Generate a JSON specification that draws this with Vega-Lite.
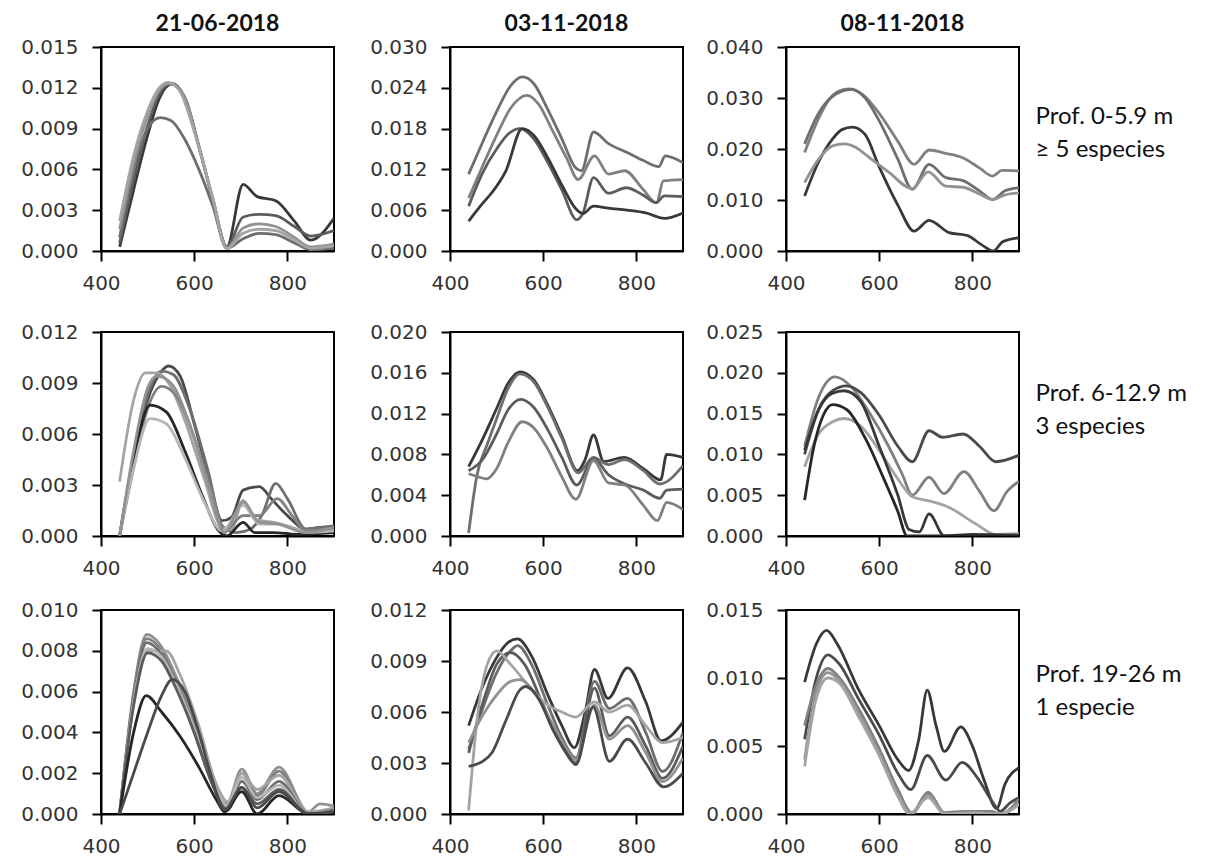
{
"$schema": "https://vega.github.io/schema/vega-lite/v6.json",
"padding": {"left": 19, "top": 12, "right": 5, "bottom": 0},
"background": "white",
"datasets": {
"a": [
{"s":2,"x":440,"y":0.0003},{"s":2,"x":470,"y":0.0045},{"s":2,"x":500,"y":0.0085},{"s":2,"x":525,"y":0.0112},{"s":2,"x":553,"y":0.0123},{"s":2,"x":580,"y":0.0112},{"s":2,"x":610,"y":0.0077},{"s":2,"x":640,"y":0.0038},{"s":2,"x":670,"y":0.0003},{"s":2,"x":705,"y":0.0049},{"s":2,"x":735,"y":0.0040},{"s":2,"x":775,"y":0.0037},{"s":2,"x":815,"y":0.0022},{"s":2,"x":850,"y":0.0008},{"s":2,"x":900,"y":0.0024},
{"s":4,"x":440,"y":0.0006},{"s":4,"x":470,"y":0.0052},{"s":4,"x":500,"y":0.0092},{"s":4,"x":525,"y":0.0115},{"s":4,"x":550,"y":0.0123},{"s":4,"x":580,"y":0.0113},{"s":4,"x":610,"y":0.0077},{"s":4,"x":640,"y":0.0038},{"s":4,"x":670,"y":0.0003},{"s":4,"x":705,"y":0.0025},{"s":4,"x":740,"y":0.0027},{"s":4,"x":775,"y":0.0026},{"s":4,"x":815,"y":0.0018},{"s":4,"x":850,"y":0.0011},{"s":4,"x":900,"y":0.0015},
{"s":5,"x":440,"y":0.0010},{"s":5,"x":470,"y":0.0060},{"s":5,"x":500,"y":0.0090},{"s":5,"x":527,"y":0.0098},{"s":5,"x":550,"y":0.0096},{"s":5,"x":580,"y":0.0082},{"s":5,"x":610,"y":0.0060},{"s":5,"x":640,"y":0.0033},{"s":5,"x":670,"y":0.0002},{"s":5,"x":705,"y":0.0009},{"s":5,"x":740,"y":0.0013},{"s":5,"x":775,"y":0.0012},{"s":5,"x":815,"y":0.0006},{"s":5,"x":850,"y":0.0001},{"s":5,"x":900,"y":0.0002},
{"s":7,"x":440,"y":0.0016},{"s":7,"x":470,"y":0.0064},{"s":7,"x":500,"y":0.0099},{"s":7,"x":525,"y":0.0118},{"s":7,"x":545,"y":0.0123},{"s":7,"x":575,"y":0.0116},{"s":7,"x":610,"y":0.0077},{"s":7,"x":640,"y":0.0038},{"s":7,"x":670,"y":0.0002},{"s":7,"x":705,"y":0.0017},{"s":7,"x":740,"y":0.0020},{"s":7,"x":775,"y":0.0018},{"s":7,"x":815,"y":0.0010},{"s":7,"x":850,"y":0.0003},{"s":7,"x":900,"y":0.0005},
{"s":8,"x":440,"y":0.0022},{"s":8,"x":470,"y":0.0070},{"s":8,"x":500,"y":0.0103},{"s":8,"x":525,"y":0.0120},{"s":8,"x":545,"y":0.0124},{"s":8,"x":570,"y":0.0117},{"s":8,"x":605,"y":0.0082},{"s":8,"x":640,"y":0.0039},{"s":8,"x":670,"y":0.0002},{"s":8,"x":705,"y":0.0013},{"s":8,"x":740,"y":0.0016},{"s":8,"x":775,"y":0.0015},{"s":8,"x":815,"y":0.0008},{"s":8,"x":850,"y":0.0002},{"s":8,"x":900,"y":0.0004}
],
"b": [
{"s":5,"x":440,"y":0.0113},{"s":5,"x":470,"y":0.0160},{"s":5,"x":500,"y":0.0205},{"s":5,"x":530,"y":0.0243},{"s":5,"x":556,"y":0.0256},{"s":5,"x":580,"y":0.0246},{"s":5,"x":610,"y":0.0208},{"s":5,"x":640,"y":0.0165},{"s":5,"x":670,"y":0.0122},{"s":5,"x":682,"y":0.0118},{"s":5,"x":708,"y":0.0175},{"s":5,"x":740,"y":0.0158},{"s":5,"x":780,"y":0.0145},{"s":5,"x":815,"y":0.0133},{"s":5,"x":848,"y":0.0124},{"s":5,"x":862,"y":0.0140},{"s":5,"x":900,"y":0.0130},
{"s":6,"x":440,"y":0.0078},{"s":6,"x":470,"y":0.0125},{"s":6,"x":500,"y":0.0170},{"s":6,"x":530,"y":0.0210},{"s":6,"x":565,"y":0.0229},{"s":6,"x":590,"y":0.0216},{"s":6,"x":620,"y":0.0177},{"s":6,"x":650,"y":0.0137},{"s":6,"x":675,"y":0.0105},{"s":6,"x":710,"y":0.0140},{"s":6,"x":740,"y":0.0113},{"s":6,"x":775,"y":0.0118},{"s":6,"x":815,"y":0.0090},{"s":6,"x":843,"y":0.0071},{"s":6,"x":858,"y":0.0103},{"s":6,"x":900,"y":0.0105},
{"s":4,"x":440,"y":0.0066},{"s":4,"x":470,"y":0.0115},{"s":4,"x":500,"y":0.0150},{"s":4,"x":525,"y":0.0172},{"s":4,"x":550,"y":0.0180},{"s":4,"x":580,"y":0.0165},{"s":4,"x":610,"y":0.0130},{"s":4,"x":640,"y":0.0090},{"s":4,"x":672,"y":0.0046},{"s":4,"x":685,"y":0.0055},{"s":4,"x":708,"y":0.0108},{"s":4,"x":740,"y":0.0085},{"s":4,"x":778,"y":0.0093},{"s":4,"x":815,"y":0.0082},{"s":4,"x":842,"y":0.0071},{"s":4,"x":860,"y":0.0081},{"s":4,"x":900,"y":0.0080},
{"s":2,"x":440,"y":0.0044},{"s":2,"x":470,"y":0.0070},{"s":2,"x":490,"y":0.0086},{"s":2,"x":520,"y":0.0118},{"s":2,"x":555,"y":0.0180},{"s":2,"x":580,"y":0.0170},{"s":2,"x":610,"y":0.0137},{"s":2,"x":640,"y":0.0097},{"s":2,"x":670,"y":0.0062},{"s":2,"x":685,"y":0.0055},{"s":2,"x":708,"y":0.0066},{"s":2,"x":740,"y":0.0063},{"s":2,"x":780,"y":0.0060},{"s":2,"x":820,"y":0.0056},{"s":2,"x":860,"y":0.0048},{"s":2,"x":900,"y":0.0056}
],
"c": [
{"s":6,"x":440,"y":0.0193},{"s":6,"x":470,"y":0.0260},{"s":6,"x":493,"y":0.0298},{"s":6,"x":515,"y":0.0314},{"s":6,"x":535,"y":0.0318},{"s":6,"x":564,"y":0.0307},{"s":6,"x":600,"y":0.0270},{"s":6,"x":640,"y":0.0215},{"s":6,"x":675,"y":0.0170},{"s":6,"x":707,"y":0.0198},{"s":6,"x":740,"y":0.0192},{"s":6,"x":779,"y":0.0183},{"s":6,"x":815,"y":0.0163},{"s":6,"x":843,"y":0.0147},{"s":6,"x":864,"y":0.0158},{"s":6,"x":900,"y":0.0157},
{"s":5,"x":440,"y":0.0210},{"s":5,"x":470,"y":0.0270},{"s":5,"x":500,"y":0.0303},{"s":5,"x":540,"y":0.0317},{"s":5,"x":570,"y":0.0300},{"s":5,"x":600,"y":0.0255},{"s":5,"x":640,"y":0.0180},{"s":5,"x":671,"y":0.0121},{"s":5,"x":707,"y":0.0170},{"s":5,"x":743,"y":0.0144},{"s":5,"x":780,"y":0.0138},{"s":5,"x":815,"y":0.0118},{"s":5,"x":843,"y":0.0101},{"s":5,"x":870,"y":0.0118},{"s":5,"x":900,"y":0.0124},
{"s":2,"x":440,"y":0.0108},{"s":2,"x":470,"y":0.0175},{"s":2,"x":500,"y":0.0220},{"s":2,"x":520,"y":0.0238},{"s":2,"x":543,"y":0.0243},{"s":2,"x":570,"y":0.0228},{"s":2,"x":600,"y":0.0165},{"s":2,"x":640,"y":0.0090},{"s":2,"x":675,"y":0.0039},{"s":2,"x":707,"y":0.0060},{"s":2,"x":750,"y":0.0036},{"s":2,"x":790,"y":0.0030},{"s":2,"x":820,"y":0.0012},{"s":2,"x":845,"y":0.0000},{"s":2,"x":865,"y":0.0018},{"s":2,"x":900,"y":0.0026},
{"s":7,"x":440,"y":0.0134},{"s":7,"x":470,"y":0.0180},{"s":7,"x":500,"y":0.0206},{"s":7,"x":525,"y":0.0210},{"s":7,"x":550,"y":0.0203},{"s":7,"x":579,"y":0.0183},{"s":7,"x":621,"y":0.0154},{"s":7,"x":671,"y":0.0122},{"s":7,"x":705,"y":0.0155},{"s":7,"x":743,"y":0.0127},{"s":7,"x":780,"y":0.0125},{"s":7,"x":815,"y":0.0112},{"s":7,"x":843,"y":0.0101},{"s":7,"x":870,"y":0.0110},{"s":7,"x":900,"y":0.0114}
],
"d": [
{"s":3,"x":440,"y":0},{"s":3,"x":470,"y":0.0045},{"s":3,"x":500,"y":0.0080},{"s":3,"x":525,"y":0.0095},{"s":3,"x":545,"y":0.0100},{"s":3,"x":570,"y":0.0094},{"s":3,"x":600,"y":0.0066},{"s":3,"x":630,"y":0.0036},{"s":3,"x":660,"y":0.0009},{"s":3,"x":680,"y":0.0011},{"s":3,"x":705,"y":0.0027},{"s":3,"x":740,"y":0.0029},{"s":3,"x":765,"y":0.0022},{"s":3,"x":800,"y":0.0012},{"s":3,"x":840,"y":0.0004},{"s":3,"x":870,"y":0.0005},{"s":3,"x":900,"y":0.0005},
{"s":5,"x":440,"y":0},{"s":5,"x":470,"y":0.0047},{"s":5,"x":500,"y":0.0083},{"s":5,"x":530,"y":0.0097},{"s":5,"x":555,"y":0.0095},{"s":5,"x":590,"y":0.0075},{"s":5,"x":630,"y":0.0038},{"s":5,"x":660,"y":0.0006},{"s":5,"x":690,"y":0.0002},{"s":5,"x":720,"y":0.0004},{"s":5,"x":745,"y":0.0012},{"s":5,"x":775,"y":0.0031},{"s":5,"x":800,"y":0.0022},{"s":5,"x":840,"y":0.0004},{"s":5,"x":870,"y":0.0005},{"s":5,"x":900,"y":0.0006},
{"s":8,"x":440,"y":0.0032},{"s":8,"x":470,"y":0.0080},{"s":8,"x":495,"y":0.0096},{"s":8,"x":520,"y":0.0096},{"s":8,"x":545,"y":0.0090},{"s":8,"x":580,"y":0.0068},{"s":8,"x":620,"y":0.0035},{"s":8,"x":660,"y":0.0005},{"s":8,"x":680,"y":0.0004},{"s":8,"x":705,"y":0.0021},{"s":8,"x":730,"y":0.0010},{"s":8,"x":770,"y":0.0008},{"s":8,"x":800,"y":0.0006},{"s":8,"x":840,"y":0.0003},{"s":8,"x":900,"y":0.0004},
{"s":6,"x":440,"y":0},{"s":6,"x":470,"y":0.0040},{"s":6,"x":500,"y":0.0075},{"s":6,"x":530,"y":0.0088},{"s":6,"x":560,"y":0.0083},{"s":6,"x":600,"y":0.0058},{"s":6,"x":640,"y":0.0024},{"s":6,"x":665,"y":0.0003},{"s":6,"x":705,"y":0.0012},{"s":6,"x":740,"y":0.0012},{"s":6,"x":778,"y":0.0022},{"s":6,"x":810,"y":0.0012},{"s":6,"x":840,"y":0.0003},{"s":6,"x":900,"y":0.0005},
{"s":1,"x":440,"y":0},{"s":1,"x":470,"y":0.0045},{"s":1,"x":505,"y":0.0077},{"s":1,"x":540,"y":0.0073},{"s":1,"x":580,"y":0.0050},{"s":1,"x":620,"y":0.0022},{"s":1,"x":650,"y":0.0004},{"s":1,"x":670,"y":0},{"s":1,"x":705,"y":0.0008},{"s":1,"x":730,"y":0.0002},{"s":1,"x":770,"y":0.0002},{"s":1,"x":820,"y":0.0001},{"s":1,"x":900,"y":0.0002},
{"s":9,"x":440,"y":0},{"s":9,"x":470,"y":0.0040},{"s":9,"x":505,"y":0.0069},{"s":9,"x":540,"y":0.0066},{"s":9,"x":580,"y":0.0046},{"s":9,"x":620,"y":0.0021},{"s":9,"x":660,"y":0.0003},{"s":9,"x":705,"y":0.0018},{"s":9,"x":740,"y":0.0007},{"s":9,"x":780,"y":0.0007},{"s":9,"x":840,"y":0.0002},{"s":9,"x":900,"y":0.0003},
{"s":7,"x":440,"y":0},{"s":7,"x":470,"y":0.0050},{"s":7,"x":500,"y":0.0087},{"s":7,"x":520,"y":0.0094},{"s":7,"x":550,"y":0.0090},{"s":7,"x":590,"y":0.0066},{"s":7,"x":630,"y":0.0030},{"s":7,"x":665,"y":0.0002},{"s":7,"x":705,"y":0.0020},{"s":7,"x":740,"y":0.0008},{"s":7,"x":780,"y":0.0007},{"s":7,"x":840,"y":0.0002},{"s":7,"x":900,"y":0.0005}
],
"e": [
{"s":2,"x":440,"y":0.0068},{"s":2,"x":470,"y":0.0095},{"s":2,"x":500,"y":0.0125},{"s":2,"x":525,"y":0.0150},{"s":2,"x":550,"y":0.0161},{"s":2,"x":580,"y":0.0153},{"s":2,"x":610,"y":0.0128},{"s":2,"x":640,"y":0.0098},{"s":2,"x":674,"y":0.0064},{"s":2,"x":690,"y":0.0075},{"s":2,"x":708,"y":0.0099},{"s":2,"x":730,"y":0.0073},{"s":2,"x":774,"y":0.0077},{"s":2,"x":815,"y":0.0066},{"s":2,"x":852,"y":0.0055},{"s":2,"x":865,"y":0.0080},{"s":2,"x":900,"y":0.0077},
{"s":5,"x":440,"y":0.0003},{"s":5,"x":458,"y":0.0060},{"s":5,"x":480,"y":0.0090},{"s":5,"x":500,"y":0.0115},{"s":5,"x":525,"y":0.0145},{"s":5,"x":550,"y":0.0159},{"s":5,"x":580,"y":0.0151},{"s":5,"x":610,"y":0.0126},{"s":5,"x":640,"y":0.0096},{"s":5,"x":675,"y":0.0062},{"s":5,"x":708,"y":0.0077},{"s":5,"x":740,"y":0.0070},{"s":5,"x":775,"y":0.0075},{"s":5,"x":815,"y":0.0064},{"s":5,"x":850,"y":0.0051},{"s":5,"x":900,"y":0.0069},
{"s":4,"x":440,"y":0.0064},{"s":4,"x":470,"y":0.0075},{"s":4,"x":500,"y":0.0100},{"s":4,"x":525,"y":0.0124},{"s":4,"x":552,"y":0.0134},{"s":4,"x":580,"y":0.0126},{"s":4,"x":610,"y":0.0104},{"s":4,"x":640,"y":0.0077},{"s":4,"x":672,"y":0.0050},{"s":4,"x":708,"y":0.0076},{"s":4,"x":740,"y":0.0060},{"s":4,"x":775,"y":0.0051},{"s":4,"x":815,"y":0.0045},{"s":4,"x":850,"y":0.0037},{"s":4,"x":865,"y":0.0045},{"s":4,"x":900,"y":0.0046},
{"s":6,"x":440,"y":0.0061},{"s":6,"x":460,"y":0.0058},{"s":6,"x":478,"y":0.0056},{"s":6,"x":500,"y":0.0066},{"s":6,"x":525,"y":0.0092},{"s":6,"x":555,"y":0.0112},{"s":6,"x":580,"y":0.0106},{"s":6,"x":610,"y":0.0085},{"s":6,"x":640,"y":0.0058},{"s":6,"x":670,"y":0.0036},{"s":6,"x":708,"y":0.0074},{"s":6,"x":740,"y":0.0052},{"s":6,"x":775,"y":0.0050},{"s":6,"x":815,"y":0.0030},{"s":6,"x":845,"y":0.0015},{"s":6,"x":865,"y":0.0033},{"s":6,"x":900,"y":0.0026}
],
"f": [
{"s":6,"x":440,"y":0.0110},{"s":6,"x":470,"y":0.0170},{"s":6,"x":505,"y":0.0195},{"s":6,"x":540,"y":0.0183},{"s":6,"x":580,"y":0.0150},{"s":6,"x":620,"y":0.0110},{"s":6,"x":650,"y":0.0075},{"s":6,"x":671,"y":0.0050},{"s":6,"x":707,"y":0.0072},{"s":6,"x":739,"y":0.0052},{"s":6,"x":782,"y":0.0079},{"s":6,"x":815,"y":0.0055},{"s":6,"x":846,"y":0.0031},{"s":6,"x":875,"y":0.0055},{"s":6,"x":900,"y":0.0067},
{"s":3,"x":440,"y":0.0100},{"s":3,"x":470,"y":0.0155},{"s":3,"x":500,"y":0.0178},{"s":3,"x":530,"y":0.0184},{"s":3,"x":560,"y":0.0176},{"s":3,"x":600,"y":0.0148},{"s":3,"x":640,"y":0.0110},{"s":3,"x":671,"y":0.0091},{"s":3,"x":707,"y":0.0129},{"s":3,"x":736,"y":0.0121},{"s":3,"x":780,"y":0.0125},{"s":3,"x":815,"y":0.0110},{"s":3,"x":850,"y":0.0091},{"s":3,"x":900,"y":0.0099},
{"s":8,"x":440,"y":0.0085},{"s":8,"x":470,"y":0.0125},{"s":8,"x":500,"y":0.0140},{"s":8,"x":525,"y":0.0144},{"s":8,"x":560,"y":0.0135},{"s":8,"x":600,"y":0.0105},{"s":8,"x":640,"y":0.0070},{"s":8,"x":671,"y":0.0048},{"s":8,"x":707,"y":0.0043},{"s":8,"x":750,"y":0.0035},{"s":8,"x":807,"y":0.0015},{"s":8,"x":850,"y":0.0002},{"s":8,"x":900,"y":0.0003},
{"s":2,"x":440,"y":0.0105},{"s":2,"x":470,"y":0.0155},{"s":2,"x":500,"y":0.0175},{"s":2,"x":525,"y":0.0178},{"s":2,"x":560,"y":0.0165},{"s":2,"x":600,"y":0.0110},{"s":2,"x":640,"y":0.0050},{"s":2,"x":664,"y":0.0008},{"s":2,"x":686,"y":0.0005},{"s":2,"x":707,"y":0.0027},{"s":2,"x":740,"y":0},{"s":2,"x":800,"y":0.0002},{"s":2,"x":900,"y":0.0001},
{"s":1,"x":440,"y":0.0044},{"s":1,"x":460,"y":0.0110},{"s":1,"x":480,"y":0.0148},{"s":1,"x":500,"y":0.0161},{"s":1,"x":530,"y":0.0155},{"s":1,"x":570,"y":0.0120},{"s":1,"x":610,"y":0.0070},{"s":1,"x":640,"y":0.0030},{"s":1,"x":660,"y":0},{"s":1,"x":700,"y":0},{"s":1,"x":800,"y":0},{"s":1,"x":900,"y":0}
],
"g": [
{"s":7,"x":440,"y":0},{"s":7,"x":470,"y":0.0060},{"s":7,"x":498,"y":0.0088},{"s":7,"x":530,"y":0.0082},{"s":7,"x":560,"y":0.0068},{"s":7,"x":600,"y":0.0045},{"s":7,"x":640,"y":0.0018},{"s":7,"x":670,"y":0.0005},{"s":7,"x":702,"y":0.0022},{"s":7,"x":735,"y":0.0010},{"s":7,"x":782,"y":0.0023},{"s":7,"x":845,"y":0.0001},{"s":7,"x":870,"y":0.0005},{"s":7,"x":900,"y":0.0004},
{"s":6,"x":440,"y":0},{"s":6,"x":470,"y":0.0058},{"s":6,"x":498,"y":0.0086},{"s":6,"x":530,"y":0.0080},{"s":6,"x":560,"y":0.0066},{"s":6,"x":600,"y":0.0043},{"s":6,"x":640,"y":0.0016},{"s":6,"x":670,"y":0.0003},{"s":6,"x":702,"y":0.0020},{"s":6,"x":735,"y":0.0009},{"s":6,"x":782,"y":0.0021},{"s":6,"x":845,"y":0},{"s":6,"x":900,"y":0.0002},
{"s":8,"x":440,"y":0},{"s":8,"x":470,"y":0.0055},{"s":8,"x":500,"y":0.0080},{"s":8,"x":540,"y":0.0080},{"s":8,"x":570,"y":0.0068},{"s":8,"x":610,"y":0.0043},{"s":8,"x":645,"y":0.0016},{"s":8,"x":672,"y":0.0006},{"s":8,"x":702,"y":0.0020},{"s":8,"x":735,"y":0.0012},{"s":8,"x":782,"y":0.0019},{"s":8,"x":845,"y":0.0001},{"s":8,"x":900,"y":0.0003},
{"s":5,"x":440,"y":0},{"s":5,"x":470,"y":0.0057},{"s":5,"x":498,"y":0.0084},{"s":5,"x":530,"y":0.0078},{"s":5,"x":560,"y":0.0064},{"s":5,"x":600,"y":0.0040},{"s":5,"x":640,"y":0.0014},{"s":5,"x":670,"y":0.0002},{"s":5,"x":702,"y":0.0016},{"s":5,"x":735,"y":0.0007},{"s":5,"x":782,"y":0.0016},{"s":5,"x":845,"y":0},{"s":5,"x":900,"y":0.0002},
{"s":9,"x":440,"y":0},{"s":9,"x":470,"y":0.0055},{"s":9,"x":500,"y":0.0081},{"s":9,"x":530,"y":0.0077},{"s":9,"x":560,"y":0.0064},{"s":9,"x":600,"y":0.0042},{"s":9,"x":640,"y":0.0016},{"s":9,"x":670,"y":0.0004},{"s":9,"x":702,"y":0.0018},{"s":9,"x":735,"y":0.0008},{"s":9,"x":782,"y":0.0014},{"s":9,"x":845,"y":0},{"s":9,"x":900,"y":0.0001},
{"s":4,"x":440,"y":0},{"s":4,"x":470,"y":0.0053},{"s":4,"x":500,"y":0.0079},{"s":4,"x":530,"y":0.0075},{"s":4,"x":560,"y":0.0062},{"s":4,"x":600,"y":0.0040},{"s":4,"x":640,"y":0.0014},{"s":4,"x":670,"y":0.0002},{"s":4,"x":702,"y":0.0013},{"s":4,"x":735,"y":0.0005},{"s":4,"x":782,"y":0.0012},{"s":4,"x":845,"y":0},{"s":4,"x":900,"y":0.0001},
{"s":1,"x":440,"y":0},{"s":1,"x":470,"y":0.0040},{"s":1,"x":497,"y":0.0058},{"s":1,"x":530,"y":0.0050},{"s":1,"x":570,"y":0.0038},{"s":1,"x":610,"y":0.0023},{"s":1,"x":650,"y":0.0006},{"s":1,"x":665,"y":0.0001},{"s":1,"x":702,"y":0.0011},{"s":1,"x":735,"y":0},{"s":1,"x":782,"y":0.0009},{"s":1,"x":845,"y":0},{"s":1,"x":900,"y":0},
{"s":3,"x":440,"y":0},{"s":3,"x":470,"y":0.0020},{"s":3,"x":500,"y":0.0040},{"s":3,"x":530,"y":0.0058},{"s":3,"x":553,"y":0.0066},{"s":3,"x":580,"y":0.0060},{"s":3,"x":610,"y":0.0040},{"s":3,"x":640,"y":0.0016},{"s":3,"x":665,"y":0.0002},{"s":3,"x":702,"y":0.0013},{"s":3,"x":735,"y":0.0003},{"s":3,"x":782,"y":0.0011},{"s":3,"x":845,"y":0},{"s":3,"x":900,"y":0.0001}
],
"h": [
{"s":2,"x":440,"y":0.0052},{"s":2,"x":470,"y":0.0075},{"s":2,"x":500,"y":0.0092},{"s":2,"x":525,"y":0.0101},{"s":2,"x":545,"y":0.0103},{"s":2,"x":575,"y":0.0093},{"s":2,"x":610,"y":0.0070},{"s":2,"x":640,"y":0.0052},{"s":2,"x":667,"y":0.0039},{"s":2,"x":690,"y":0.0060},{"s":2,"x":710,"y":0.0085},{"s":2,"x":739,"y":0.0068},{"s":2,"x":781,"y":0.0086},{"s":2,"x":820,"y":0.0066},{"s":2,"x":853,"y":0.0043},{"s":2,"x":900,"y":0.0054},
{"s":5,"x":440,"y":0.0038},{"s":5,"x":470,"y":0.0062},{"s":5,"x":500,"y":0.0083},{"s":5,"x":530,"y":0.0096},{"s":5,"x":545,"y":0.0099},{"s":5,"x":575,"y":0.0088},{"s":5,"x":610,"y":0.0064},{"s":5,"x":640,"y":0.0045},{"s":5,"x":670,"y":0.0033},{"s":5,"x":710,"y":0.0078},{"s":5,"x":742,"y":0.0062},{"s":5,"x":781,"y":0.0068},{"s":5,"x":820,"y":0.0048},{"s":5,"x":856,"y":0.0025},{"s":5,"x":900,"y":0.0048},
{"s":4,"x":440,"y":0.0036},{"s":4,"x":470,"y":0.0065},{"s":4,"x":500,"y":0.0088},{"s":4,"x":530,"y":0.0095},{"s":4,"x":560,"y":0.0088},{"s":4,"x":600,"y":0.0064},{"s":4,"x":640,"y":0.0040},{"s":4,"x":670,"y":0.0030},{"s":4,"x":710,"y":0.0074},{"s":4,"x":742,"y":0.0046},{"s":4,"x":781,"y":0.0057},{"s":4,"x":820,"y":0.0040},{"s":4,"x":856,"y":0.0021},{"s":4,"x":900,"y":0.0040},
{"s":8,"x":440,"y":0.0002},{"s":8,"x":460,"y":0.0060},{"s":8,"x":480,"y":0.0088},{"s":8,"x":500,"y":0.0096},{"s":8,"x":530,"y":0.0088},{"s":8,"x":570,"y":0.0075},{"s":8,"x":610,"y":0.0064},{"s":8,"x":640,"y":0.0060},{"s":8,"x":670,"y":0.0057},{"s":8,"x":710,"y":0.0066},{"s":8,"x":742,"y":0.0060},{"s":8,"x":781,"y":0.0064},{"s":8,"x":820,"y":0.0052},{"s":8,"x":856,"y":0.0042},{"s":8,"x":900,"y":0.0045},
{"s":7,"x":440,"y":0.0042},{"s":7,"x":470,"y":0.0058},{"s":7,"x":500,"y":0.0070},{"s":7,"x":530,"y":0.0078},{"s":7,"x":550,"y":0.0079},{"s":7,"x":580,"y":0.0072},{"s":7,"x":610,"y":0.0058},{"s":7,"x":640,"y":0.0043},{"s":7,"x":670,"y":0.0032},{"s":7,"x":710,"y":0.0064},{"s":7,"x":742,"y":0.0044},{"s":7,"x":781,"y":0.0052},{"s":7,"x":820,"y":0.0036},{"s":7,"x":856,"y":0.0019},{"s":7,"x":900,"y":0.0033},
{"s":3,"x":440,"y":0.0028},{"s":3,"x":470,"y":0.0031},{"s":3,"x":490,"y":0.0036},{"s":3,"x":520,"y":0.0055},{"s":3,"x":550,"y":0.0073},{"s":3,"x":562,"y":0.0075},{"s":3,"x":590,"y":0.0068},{"s":3,"x":620,"y":0.0050},{"s":3,"x":650,"y":0.0036},{"s":3,"x":670,"y":0.0029},{"s":3,"x":707,"y":0.0063},{"s":3,"x":742,"y":0.0031},{"s":3,"x":781,"y":0.0044},{"s":3,"x":820,"y":0.0030},{"s":3,"x":858,"y":0.0016},{"s":3,"x":900,"y":0.0024}
],
"i": [
{"s":2,"x":440,"y":0.0097},{"s":2,"x":465,"y":0.0125},{"s":2,"x":487,"y":0.0135},{"s":2,"x":510,"y":0.0125},{"s":2,"x":555,"y":0.0092},{"s":2,"x":600,"y":0.0065},{"s":2,"x":640,"y":0.0040},{"s":2,"x":663,"y":0.0032},{"s":2,"x":685,"y":0.0055},{"s":2,"x":703,"y":0.0091},{"s":2,"x":722,"y":0.0065},{"s":2,"x":740,"y":0.0046},{"s":2,"x":775,"y":0.0064},{"s":2,"x":800,"y":0.0050},{"s":2,"x":825,"y":0.0025},{"s":2,"x":852,"y":0.0004},{"s":2,"x":870,"y":0.0022},{"s":2,"x":900,"y":0.0034},
{"s":3,"x":440,"y":0.0055},{"s":3,"x":465,"y":0.0100},{"s":3,"x":490,"y":0.0117},{"s":3,"x":515,"y":0.0110},{"s":3,"x":555,"y":0.0085},{"s":3,"x":600,"y":0.0058},{"s":3,"x":640,"y":0.0030},{"s":3,"x":668,"y":0.0018},{"s":3,"x":703,"y":0.0043},{"s":3,"x":743,"y":0.0025},{"s":3,"x":778,"y":0.0038},{"s":3,"x":810,"y":0.0027},{"s":3,"x":843,"y":0.0009},{"s":3,"x":860,"y":0.0002},{"s":3,"x":880,"y":0.0008},{"s":3,"x":900,"y":0.0012},
{"s":6,"x":440,"y":0.0065},{"s":6,"x":465,"y":0.0095},{"s":6,"x":490,"y":0.0107},{"s":6,"x":515,"y":0.0100},{"s":6,"x":555,"y":0.0078},{"s":6,"x":600,"y":0.0048},{"s":6,"x":640,"y":0.0018},{"s":6,"x":670,"y":0.0001},{"s":6,"x":705,"y":0.0016},{"s":6,"x":740,"y":0.0001},{"s":6,"x":780,"y":0.0002},{"s":6,"x":840,"y":0.0002},{"s":6,"x":860,"y":0},{"s":6,"x":900,"y":0.0011},
{"s":7,"x":440,"y":0.0040},{"s":7,"x":465,"y":0.0090},{"s":7,"x":490,"y":0.0104},{"s":7,"x":515,"y":0.0098},{"s":7,"x":555,"y":0.0075},{"s":7,"x":600,"y":0.0045},{"s":7,"x":640,"y":0.0015},{"s":7,"x":670,"y":0},{"s":7,"x":705,"y":0.0014},{"s":7,"x":740,"y":0},{"s":7,"x":800,"y":0.0001},{"s":7,"x":860,"y":0},{"s":7,"x":900,"y":0.0008},
{"s":8,"x":440,"y":0.0035},{"s":8,"x":465,"y":0.0085},{"s":8,"x":490,"y":0.0100},{"s":8,"x":515,"y":0.0096},{"s":8,"x":555,"y":0.0072},{"s":8,"x":600,"y":0.0043},{"s":8,"x":640,"y":0.0013},{"s":8,"x":665,"y":0},{"s":8,"x":705,"y":0.0012},{"s":8,"x":740,"y":0},{"s":8,"x":800,"y":0.0001},{"s":8,"x":860,"y":0},{"s":8,"x":900,"y":0.0007}
]
},
"hconcat": [
{"vconcat": [
 {"data": {"name": "a"}, "width": 233, "height": 204, "title": "21-06-2018",
  "mark": {"type": "line", "interpolate": "monotone", "strokeWidth": 2.8, "clip": true},
  "encoding": {
   "x": {"field": "x", "type": "quantitative", "scale": {"domain": [400, 900], "nice": false}, "axis": {"values": [400, 600, 800], "title": null}},
   "y": {"field": "y", "type": "quantitative", "scale": {"domain": [0, 0.015], "nice": false}, "axis": {"values": [0, 0.003, 0.006, 0.009, 0.012, 0.015], "format": ".3f", "title": null}},
   "color": {"field": "s", "type": "nominal", "scale": {"domain": [1,2,3,4,5,6,7,8,9], "range": ["#262626","#383838","#4a4a4a","#5c5c5c","#6e6e6e","#808080","#929292","#a4a4a4","#b6b6b6"]}, "legend": null}}},
 {"vconcat": [
  {"data": {"name": "d"}, "width": 233, "height": 204,
   "mark": {"type": "line", "interpolate": "monotone", "strokeWidth": 2.8, "clip": true},
   "encoding": {
    "x": {"field": "x", "type": "quantitative", "scale": {"domain": [400, 900], "nice": false}, "axis": {"values": [400, 600, 800], "title": null}},
    "y": {"field": "y", "type": "quantitative", "scale": {"domain": [0, 0.012], "nice": false}, "axis": {"values": [0, 0.003, 0.006, 0.009, 0.012], "format": ".3f", "title": null}},
    "color": {"field": "s", "type": "nominal", "scale": {"domain": [1,2,3,4,5,6,7,8,9], "range": ["#262626","#383838","#4a4a4a","#5c5c5c","#6e6e6e","#808080","#929292","#a4a4a4","#b6b6b6"]}, "legend": null}}},
  {"data": {"name": "g"}, "width": 233, "height": 204,
   "mark": {"type": "line", "interpolate": "monotone", "strokeWidth": 2.8, "clip": true},
   "encoding": {
    "x": {"field": "x", "type": "quantitative", "scale": {"domain": [400, 900], "nice": false}, "axis": {"values": [400, 600, 800], "title": null}},
    "y": {"field": "y", "type": "quantitative", "scale": {"domain": [0, 0.010], "nice": false}, "axis": {"values": [0, 0.002, 0.004, 0.006, 0.008, 0.010], "format": ".3f", "title": null}},
    "color": {"field": "s", "type": "nominal", "scale": {"domain": [1,2,3,4,5,6,7,8,9], "range": ["#262626","#383838","#4a4a4a","#5c5c5c","#6e6e6e","#808080","#929292","#a4a4a4","#b6b6b6"]}, "legend": null}}}
 ], "spacing": 20}
], "spacing": 27},
{"hconcat": [
 {"vconcat": [
  {"data": {"name": "b"}, "width": 233, "height": 204, "title": "03-11-2018",
   "mark": {"type": "line", "interpolate": "monotone", "strokeWidth": 2.8, "clip": true},
   "encoding": {
    "x": {"field": "x", "type": "quantitative", "scale": {"domain": [400, 900], "nice": false}, "axis": {"values": [400, 600, 800], "title": null}},
    "y": {"field": "y", "type": "quantitative", "scale": {"domain": [0, 0.030], "nice": false}, "axis": {"values": [0, 0.006, 0.012, 0.018, 0.024, 0.030], "format": ".3f", "title": null}},
    "color": {"field": "s", "type": "nominal", "scale": {"domain": [1,2,3,4,5,6,7,8,9], "range": ["#262626","#383838","#4a4a4a","#5c5c5c","#6e6e6e","#808080","#929292","#a4a4a4","#b6b6b6"]}, "legend": null}}},
  {"vconcat": [
   {"data": {"name": "e"}, "width": 233, "height": 204,
    "mark": {"type": "line", "interpolate": "monotone", "strokeWidth": 2.8, "clip": true},
    "encoding": {
     "x": {"field": "x", "type": "quantitative", "scale": {"domain": [400, 900], "nice": false}, "axis": {"values": [400, 600, 800], "title": null}},
     "y": {"field": "y", "type": "quantitative", "scale": {"domain": [0, 0.020], "nice": false}, "axis": {"values": [0, 0.004, 0.008, 0.012, 0.016, 0.020], "format": ".3f", "title": null}},
     "color": {"field": "s", "type": "nominal", "scale": {"domain": [1,2,3,4,5,6,7,8,9], "range": ["#262626","#383838","#4a4a4a","#5c5c5c","#6e6e6e","#808080","#929292","#a4a4a4","#b6b6b6"]}, "legend": null}}},
   {"data": {"name": "h"}, "width": 233, "height": 204,
    "mark": {"type": "line", "interpolate": "monotone", "strokeWidth": 2.8, "clip": true},
    "encoding": {
     "x": {"field": "x", "type": "quantitative", "scale": {"domain": [400, 900], "nice": false}, "axis": {"values": [400, 600, 800], "title": null}},
     "y": {"field": "y", "type": "quantitative", "scale": {"domain": [0, 0.012], "nice": false}, "axis": {"values": [0, 0.003, 0.006, 0.009, 0.012], "format": ".3f", "title": null}},
     "color": {"field": "s", "type": "nominal", "scale": {"domain": [1,2,3,4,5,6,7,8,9], "range": ["#262626","#383838","#4a4a4a","#5c5c5c","#6e6e6e","#808080","#929292","#a4a4a4","#b6b6b6"]}, "legend": null}}}
  ], "spacing": 20}
 ], "spacing": 27},
 {"vconcat": [
  {"data": {"name": "c"}, "width": 233, "height": 204, "title": "08-11-2018",
   "mark": {"type": "line", "interpolate": "monotone", "strokeWidth": 2.8, "clip": true},
   "encoding": {
    "x": {"field": "x", "type": "quantitative", "scale": {"domain": [400, 900], "nice": false}, "axis": {"values": [400, 600, 800], "title": null}},
    "y": {"field": "y", "type": "quantitative", "scale": {"domain": [0, 0.040], "nice": false}, "axis": {"values": [0, 0.01, 0.02, 0.03, 0.04], "format": ".3f", "title": ["Prof. 0-5.9 m", "≥ 5 especies"], "titleY": 57}},
    "color": {"field": "s", "type": "nominal", "scale": {"domain": [1,2,3,4,5,6,7,8,9], "range": ["#262626","#383838","#4a4a4a","#5c5c5c","#6e6e6e","#808080","#929292","#a4a4a4","#b6b6b6"]}, "legend": null}}},
  {"vconcat": [
   {"data": {"name": "f"}, "width": 233, "height": 204,
    "mark": {"type": "line", "interpolate": "monotone", "strokeWidth": 2.8, "clip": true},
    "encoding": {
     "x": {"field": "x", "type": "quantitative", "scale": {"domain": [400, 900], "nice": false}, "axis": {"values": [400, 600, 800], "title": null}},
     "y": {"field": "y", "type": "quantitative", "scale": {"domain": [0, 0.025], "nice": false}, "axis": {"values": [0, 0.005, 0.01, 0.015, 0.02, 0.025], "format": ".3f", "title": ["Prof. 6-12.9 m", "3 especies"], "titleY": 49}},
     "color": {"field": "s", "type": "nominal", "scale": {"domain": [1,2,3,4,5,6,7,8,9], "range": ["#262626","#383838","#4a4a4a","#5c5c5c","#6e6e6e","#808080","#929292","#a4a4a4","#b6b6b6"]}, "legend": null}}},
   {"data": {"name": "i"}, "width": 233, "height": 204,
    "mark": {"type": "line", "interpolate": "monotone", "strokeWidth": 2.8, "clip": true},
    "encoding": {
     "x": {"field": "x", "type": "quantitative", "scale": {"domain": [400, 900], "nice": false}, "axis": {"values": [400, 600, 800], "title": null}},
     "y": {"field": "y", "type": "quantitative", "scale": {"domain": [0, 0.015], "nice": false}, "axis": {"values": [0, 0.005, 0.01, 0.015], "format": ".3f", "title": ["Prof. 19-26 m", "1 especie"], "titleY": 52}},
     "color": {"field": "s", "type": "nominal", "scale": {"domain": [1,2,3,4,5,6,7,8,9], "range": ["#262626","#383838","#4a4a4a","#5c5c5c","#6e6e6e","#808080","#929292","#a4a4a4","#b6b6b6"]}, "legend": null}}}
  ], "spacing": 20}
 ], "spacing": 27}
], "spacing": 20}
],
"spacing": 33,
"config": {
 "view": {"stroke": "#000000", "strokeWidth": 2},
 "axis": {"domainColor": "#000000", "domainWidth": 2, "tickColor": "#000000", "tickWidth": 2, "labelFont": "DejaVu Sans", "labelFontSize": 20, "labelColor": "#333333", "grid": false, "labelFlush": false, "labelOverlap": false},
 "axisX": {"tickSize": 10, "labelPadding": 12},
 "axisY": {"tickSize": 9, "labelPadding": 14, "titleAngle": 0, "titleX": 249, "titleY": 53, "titleAlign": "left", "titleBaseline": "top", "titleFont": "Lato", "titleFontSize": 24, "titleFontWeight": "normal", "titleColor": "#111111", "titleLineHeight": 33},
 "title": {"font": "Lato", "fontSize": 23, "fontWeight": "bold", "color": "#111111", "offset": 1, "anchor": "middle", "frame": "group"}
}
}
